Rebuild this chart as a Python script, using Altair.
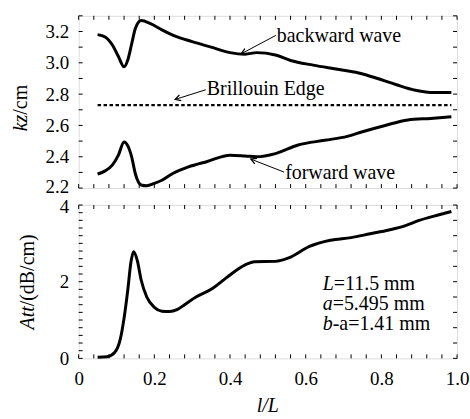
import altair as alt
import pandas as pd

# ---------------- data ----------------
bw_x = [0.05, 0.07, 0.09, 0.105, 0.12, 0.13, 0.14, 0.15, 0.165, 0.19, 0.22, 0.25, 0.30, 0.35, 0.40,
        0.44, 0.47, 0.52, 0.56, 0.62, 0.68, 0.74, 0.79, 0.84, 0.89, 0.94, 0.985]
bw_y = [3.18, 3.165, 3.11, 3.04, 2.975, 3.02, 3.12, 3.22, 3.27, 3.25, 3.21, 3.175, 3.135, 3.10, 3.065,
        3.055, 3.065, 3.05, 3.015, 2.985, 2.96, 2.935, 2.90, 2.86, 2.825, 2.81, 2.81]

fw_x = [0.05, 0.07, 0.09, 0.105, 0.12, 0.13, 0.14, 0.15, 0.165, 0.18, 0.20, 0.22, 0.25, 0.29, 0.34,
        0.40, 0.44, 0.47, 0.52, 0.58, 0.65, 0.71, 0.75, 0.81, 0.87, 0.93, 0.985]
fw_y = [2.29, 2.31, 2.35, 2.41, 2.495, 2.47, 2.40, 2.29, 2.22, 2.215, 2.23, 2.25, 2.295, 2.335, 2.37,
        2.41, 2.405, 2.40, 2.42, 2.475, 2.505, 2.53, 2.56, 2.60, 2.635, 2.645, 2.655]

edge_x = [0.05, 0.985]
edge_y = [2.73, 2.73]

att_x = [0.05, 0.075, 0.095, 0.11, 0.12, 0.13, 0.138, 0.145, 0.155, 0.165, 0.18, 0.20, 0.22, 0.24,
         0.26, 0.28, 0.31, 0.35, 0.39, 0.44, 0.465, 0.52, 0.555, 0.61, 0.665, 0.72, 0.77, 0.82,
         0.86, 0.90, 0.95, 0.985]
att_y = [0.03, 0.04, 0.15, 0.5, 1.05, 1.8, 2.5, 2.78, 2.55, 2.05, 1.6, 1.33, 1.23, 1.22,
         1.27, 1.4, 1.6, 1.8, 2.1, 2.44, 2.52, 2.53, 2.62, 2.92, 3.08, 3.15, 3.25, 3.35,
         3.45, 3.6, 3.74, 3.83]

x_labels = [0, 0.2, 0.4, 0.6, 0.8, 1.0]
kz_labels = [2.2, 2.4, 2.6, 2.8, 3.0, 3.2]
att_labels = [0, 2, 4]
x_minor = [round(i * 0.04, 2) for i in range(26)]
kz_minor = [round(2.2 + i * 0.1, 2) for i in range(12)]
att_minor_left = [round(i * 0.2, 1) for i in range(21)]
att_minor_right = [round(i * 0.4, 1) for i in range(11)]

# annotations (top panel)
ann_text = ["backward wave", "Brillouin Edge", "forward wave"]
ann_tx = [0.521, 0.336, 0.543]
ann_ty = [3.173, 2.83, 2.296]
arr_x1 = [0.521, 0.336, 0.543]
arr_y1 = [3.175, 2.828, 2.302]
arr_x2 = [0.43, 0.255, 0.455]
arr_y2 = [3.058, 2.766, 2.385]
arr_ang = [332.5, 341.9, 22.3]

# parameter text (bottom panel)
par_italic = ["L", "a", "b"]
par_rest = ["=11.5 mm", "=5.495 mm", "-a=1.41 mm"]
par_x = [0.645, 0.645, 0.645]
par_y = [1.94, 1.42, 0.90]
par_dx = [11.1, 10.0, 10.0]

# ---------------- layout ----------------
W, H1, H2 = 380, 173, 154
FONT = "Liberation Serif"
FS = 19      # tick labels
FA = 20      # annotations / titles

xscale = alt.Scale(domain=[0, 1], nice=False, zero=False)
y1scale = alt.Scale(domain=[2.2, 3.3], nice=False, zero=False)
y2scale = alt.Scale(domain=[0, 4], nice=False, zero=False)

xax_top = alt.Axis(labels=False, ticks=False, domain=False, grid=False, title=None)
xax_bot = alt.Axis(values=x_labels, ticks=False, domain=False, grid=False, title=None,
                   labelExpr="datum.value == 0 ? '0' : format(datum.value, '.1f')",
                   labelPadding=11, labelFont=FONT, labelFontSize=FS, labelColor="black",
                   labelFlush=False)
yax_top = alt.Axis(values=kz_labels, format=".1f", ticks=False, domain=False, grid=False,
                   title=None, labelPadding=10, labelFont=FONT, labelFontSize=FS,
                   labelColor="black", labelFlush=False,
                   labelOffset={"condition": {"test": "datum.value < 2.25", "value": -1.5},
                                "value": 0})
yax_bot = alt.Axis(values=att_labels, format="d", ticks=False, domain=False, grid=False,
                   title=None, labelPadding=10, labelFont=FONT, labelFontSize=FS,
                   labelColor="black", labelFlush=False,
                   labelOffset={"condition": {"test": "datum.value > 3.5", "value": 1.5},
                                "value": 0})


def X(field, ax):
    return alt.X(field, type="quantitative", scale=xscale, axis=ax)


def Y(field, sc, ax):
    return alt.Y(field, type="quantitative", scale=sc, axis=ax)


def tick_layers(ysc, yax, xax, h, yleft, yright):
    dfx = pd.DataFrame({"v": x_minor})
    dyl = pd.DataFrame({"v": yleft})
    dyr = pd.DataFrame({"v": yright})
    t = alt.Chart(dfx).mark_rule(color="black", strokeWidth=1)
    b1 = t.encode(x=X("v", xax), y=alt.value(h), y2=alt.value(h - 4))
    b2 = t.encode(x=X("v", xax), y=alt.value(0), y2=alt.value(4))
    l1 = alt.Chart(dyl).mark_rule(color="black", strokeWidth=1).encode(
        y=Y("v", ysc, yax), x=alt.value(0), x2=alt.value(4))
    r1 = alt.Chart(dyr).mark_rule(color="black", strokeWidth=1).encode(
        y=Y("v", ysc, yax), x=alt.value(W), x2=alt.value(W - 4))
    return [b1, b2, l1, r1]


# ---------- top panel ----------
df_waves = pd.concat([
    pd.DataFrame({"x": bw_x, "y": bw_y, "s": "backward"}),
    pd.DataFrame({"x": fw_x, "y": fw_y, "s": "forward"}),
])
waves = alt.Chart(df_waves).mark_line(color="black", strokeWidth=3, interpolate="monotone").encode(
    x=X("x", xax_top), y=Y("y", y1scale, yax_top), detail="s:N")

edge = alt.Chart(pd.DataFrame({"x": edge_x, "y": edge_y})).mark_line(
    color="black", strokeWidth=2.2, strokeDash=[3.5, 2.5]).encode(
    x=X("x", xax_top), y=Y("y", y1scale, yax_top))

df_ann = pd.DataFrame({"t": ann_text, "x": ann_tx, "y": ann_ty})
ann = alt.Chart(df_ann).mark_text(align="left", baseline="middle", font=FONT, fontSize=FA,
                                  color="black", dx=1).encode(
    x=X("x", xax_top), y=Y("y", y1scale, yax_top), text="t:N")

df_arr = pd.DataFrame({"x1": arr_x1, "y1": arr_y1, "x2": arr_x2, "y2": arr_y2, "a": arr_ang})
arr_line = alt.Chart(df_arr).mark_rule(color="black", strokeWidth=1).encode(
    x=X("x1", xax_top), y=Y("y1", y1scale, yax_top), x2="x2", y2="y2")
arr_head = alt.Chart(df_arr).mark_point(shape="M1,-0.55L0,0L1,0.55", filled=False, color="black",
                                        strokeWidth=1.3, size=120, opacity=1).encode(
    x=X("x2", xax_top), y=Y("y2", y1scale, yax_top), angle=alt.Angle("a:Q", scale=None))

ytitle_top = alt.Chart(pd.DataFrame({"t": ["kz"]})).mark_text(
    align="left", baseline="alphabetic", angle=270, font=FONT, fontSize=FA, fontStyle="italic",
    color="black").encode(text="t:N", x=alt.value(-52), y=alt.value(116))
ytitle_top2 = alt.Chart(pd.DataFrame({"t": ["/cm"]})).mark_text(
    align="left", baseline="alphabetic", angle=270, font=FONT, fontSize=FA,
    color="black").encode(text="t:N", x=alt.value(-52), y=alt.value(116 - 16.7))

top = alt.layer(waves, edge, *tick_layers(y1scale, yax_top, xax_top, H1, kz_minor, kz_minor),
                arr_line, arr_head, ann, ytitle_top, ytitle_top2).properties(width=W, height=H1)

# ---------- bottom panel ----------
att = alt.Chart(pd.DataFrame({"x": att_x, "y": att_y})).mark_line(
    color="black", strokeWidth=3, interpolate="monotone").encode(
    x=X("x", xax_bot), y=Y("y", y2scale, yax_bot))

df_par = pd.DataFrame({"i": par_italic, "r": par_rest, "x": par_x, "y": par_y, "dx": par_dx})
par_i = alt.Chart(df_par).mark_text(align="left", baseline="middle", font=FONT, fontSize=FA,
                                    fontStyle="italic", color="black").encode(
    x=X("x", xax_bot), y=Y("y", y2scale, yax_bot), text="i:N")
par_r = [
    alt.Chart(df_par.iloc[[k]]).mark_text(align="left", baseline="middle", font=FONT, fontSize=FA,
                                          color="black", dx=par_dx[k]).encode(
        x=X("x", xax_bot), y=Y("y", y2scale, yax_bot), text="r:N")
    for k in range(3)
]

ytitle_bot = alt.Chart(pd.DataFrame({"t": ["Att"]})).mark_text(
    align="left", baseline="alphabetic", angle=270, font=FONT, fontSize=FA, fontStyle="italic",
    color="black").encode(text="t:N", x=alt.value(-45), y=alt.value(125))
ytitle_bot2 = alt.Chart(pd.DataFrame({"t": ["/(dB/cm)"]})).mark_text(
    align="left", baseline="alphabetic", angle=270, font=FONT, fontSize=FA,
    color="black").encode(text="t:N", x=alt.value(-45), y=alt.value(125 - 23.3))
xtitle = alt.Chart(pd.DataFrame({"t": ["l/L"]})).mark_text(
    align="center", baseline="middle", font=FONT, fontSize=FA, fontStyle="italic",
    color="black").encode(text="t:N", x=alt.value(W / 2), y=alt.value(202))

bottom = alt.layer(att, *tick_layers(y2scale, yax_bot, xax_bot, H2, att_minor_left, att_minor_right),
                   par_i, *par_r, ytitle_bot, ytitle_bot2, xtitle).properties(width=W, height=H2)

chart = alt.vconcat(top, bottom, spacing=17, bounds="flush").properties(
    padding={"left": 10, "top": 13, "right": 0, "bottom": 0}
).configure_view(stroke="black", strokeWidth=1).configure(background="white")

chart.save("out.html", embed_options={"renderer": "svg", "actions": False})
